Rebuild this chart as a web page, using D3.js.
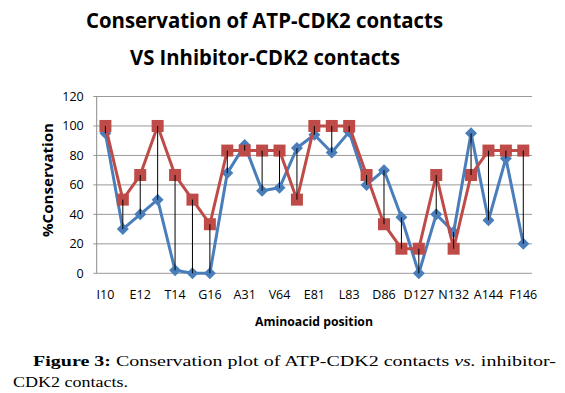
<!DOCTYPE html>
<html>
<head>
<meta charset="utf-8">
<script src="https://cdn.jsdelivr.net/npm/d3@7"></script>
<style>
  body { margin: 0; background: #fff; }
  svg { display: block; }
</style>
</head>
<body>
<div id="canvas"></div>
<script>

// residues along the x axis; only every other one is labelled
var residues = ["I10", "G11", "E12", "G13", "T14", "Y15", "G16", "V18", "A31", "K33",
  "V64", "F80", "E81", "F82", "L83", "H84", "D86", "K89", "D127", "Q131",
  "N132", "L134", "A144", "D145", "F146"];

var atpValues = [95, 30, 40, 50, 2, 0, 0, 68, 87, 56,
  58, 85, 94, 82, 96, 60, 70, 38, 0, 40,
  28, 95, 36, 78, 20];

var inhibitorValues = [100, 50, 66.7, 100, 66.7, 50, 33.3, 83.3, 83.3, 83.3,
  83.3, 50, 100, 100, 100, 66.7, 33.3, 16.7, 16.7, 66.7,
  16.7, 66.7, 83.3, 83.3, 83.3];

var yTicks = [0, 20, 40, 60, 80, 100, 120];

var blue = "#4a7ebb";
var red = "#be4b48";

var plotLeft = 96.7, plotRight = 532, plotTop = 96.5, plotBottom = 273.3;

var svg = d3.select("#canvas")
  .append("svg")
  .attr("width", 565)
  .attr("height", 393);

var x = d3.scaleBand()
  .domain(residues)
  .range([plotLeft, plotRight]);

function cx(r) { return x(r) + x.bandwidth() / 2; }

var y = d3.scaleLinear()
  .domain([0, 120])
  .range([plotBottom, plotTop]);

// title
var titleFont = "bold 21px 'Open Sans', sans-serif";
svg.append("text")
  .attr("x", 86).attr("y", 28)
  .attr("textLength", 357).attr("lengthAdjust", "spacingAndGlyphs")
  .style("font", titleFont)
  .text("Conservation of ATP-CDK2 contacts");
svg.append("text")
  .attr("x", 130).attr("y", 65)
  .attr("textLength", 270).attr("lengthAdjust", "spacingAndGlyphs")
  .style("font", titleFont)
  .text("VS Inhibitor-CDK2 contacts");

// gridlines, starting a little left of the axis like tick marks
svg.append("g")
  .selectAll("line")
  .data(yTicks)
  .enter()
    .append("line")
    .attr("x1", plotLeft - 3.5).attr("x2", plotRight)
    .attr("y1", function(d) { return y(d); })
    .attr("y2", function(d) { return y(d); })
    .attr("stroke", "#9a9a9a")
    .attr("stroke-width", 1);

svg.append("line")
  .attr("x1", plotLeft).attr("x2", plotLeft)
  .attr("y1", plotTop).attr("y2", plotBottom)
  .attr("stroke", "#8a8a8a");

// y axis
var yAxis = svg.append("g")
  .attr("transform", "translate(" + plotLeft + ",0)")
  .call(d3.axisLeft(y).tickValues(yTicks).tickSize(0).tickPadding(13));
yAxis.select(".domain").remove();
yAxis.selectAll("text")
  .style("font", "12.5px 'Open Sans', sans-serif")
  .attr("fill", "#000");

// x axis, labels on every second residue
var xAxis = svg.append("g")
  .attr("transform", "translate(0," + plotBottom + ")")
  .call(d3.axisBottom(x)
    .tickValues(residues.filter(function(r, i) { return i % 2 === 0; }))
    .tickSize(0).tickPadding(17));
xAxis.select(".domain").remove();
xAxis.selectAll("text")
  .style("font", "12.5px 'Open Sans', sans-serif")
  .attr("fill", "#000");

svg.append("text")
  .attr("transform", "translate(53,180) rotate(-90)")
  .attr("text-anchor", "middle")
  .attr("textLength", 114).attr("lengthAdjust", "spacingAndGlyphs")
  .style("font", "bold 13.5px 'Open Sans', sans-serif")
  .text("%Conservation");

svg.append("text")
  .attr("x", 255).attr("y", 326)
  .attr("textLength", 118).attr("lengthAdjust", "spacingAndGlyphs")
  .style("font", "bold 13px 'Open Sans', sans-serif")
  .text("Aminoacid position");

var line = d3.line()
  .x(function(d, i) { return cx(residues[i]); })
  .y(function(d) { return y(d); });

// ATP series (blue diamonds)
svg.append("path")
  .attr("d", line(atpValues))
  .attr("fill", "none")
  .attr("stroke", blue)
  .attr("stroke-width", 3)
  .attr("stroke-linejoin", "round");
svg.append("g")
  .selectAll("path")
  .data(atpValues)
  .enter()
    .append("path")
    .attr("d", "M0,-6L6,0L0,6L-6,0Z")
    .attr("transform", function(d, i) {
      return "translate(" + cx(residues[i]) + "," + y(d) + ")";
    })
    .attr("fill", blue);

// inhibitor series (red squares)
svg.append("path")
  .attr("d", line(inhibitorValues))
  .attr("fill", "none")
  .attr("stroke", red)
  .attr("stroke-width", 3)
  .attr("stroke-linejoin", "round");
svg.append("g")
  .selectAll("rect")
  .data(inhibitorValues)
  .enter()
    .append("rect")
    .attr("x", function(d, i) { return cx(residues[i]) - 6; })
    .attr("y", function(d) { return y(d) - 6; })
    .attr("width", 12).attr("height", 12)
    .attr("fill", red);

// high-low lines between the two series
svg.append("g")
  .selectAll("line")
  .data(residues)
  .enter()
    .append("line")
    .attr("x1", function(r) { return cx(r); })
    .attr("x2", function(r) { return cx(r); })
    .attr("y1", function(r, i) { return y(atpValues[i]); })
    .attr("y2", function(r, i) { return y(inhibitorValues[i]); })
    .attr("stroke", "#000")
    .attr("stroke-width", 1);

// figure caption (the scan is stretched sideways, so glyphs are widened)
var caption = svg.append("g").style("font", "15px 'Liberation Serif', serif");
var line1 = caption.append("text")
  .attr("x", 33).attr("y", 366)
  .attr("textLength", 523).attr("lengthAdjust", "spacingAndGlyphs");
line1.append("tspan").style("font-weight", "bold").text("Figure 3:");
line1.append("tspan").text(" Conservation plot of ATP-CDK2 contacts ");
line1.append("tspan").style("font-style", "italic").text("vs.");
line1.append("tspan").text(" inhibitor-");
caption.append("text")
  .attr("x", 13).attr("y", 387)
  .attr("textLength", 115).attr("lengthAdjust", "spacingAndGlyphs")
  .text("CDK2 contacts.");

</script>
</body>
</html>
